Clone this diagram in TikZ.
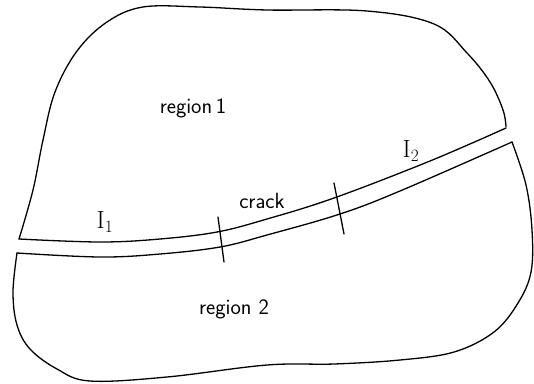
\documentclass[tikz,border=0pt]{standalone}
\begin{document}
\begin{tikzpicture}[x=1pt,y=-1pt,
  outline/.style={line width=1.3pt,line cap=round,line join=round},
  tick/.style={line width=1.3pt,line cap=round},
  lab/.style={font=\sffamily\fontsize{22}{24}\selectfont,inner sep=0pt},
  mlab/.style={font=\fontsize{24}{26}\selectfont,inner sep=0pt}]
\useasboundingbox (0,0) rectangle (534,383);
% region 1 outline
\draw[outline] plot[smooth,tension=0.6] coordinates {(19,239) (33,190) (43,140) (55,92) (77,51) (107,22) (143,7) (200,7) (267,10) (367,11) (434,24) (467,53) (490,82) (503,110) (506,127)};
% upper crack boundary
\draw[outline] plot[smooth,tension=0.6] coordinates {(19,239) (100,242) (160,239) (217,232) (267,219) (334,198) (430,161) (506,128)};
% lower crack boundary
\draw[outline] plot[smooth,tension=0.6] coordinates {(17,253) (100,257) (160,254) (220,247) (267,235) (340,214) (400,191) (512,142)};
% region 2 outline
\draw[outline] plot[smooth,tension=0.6] coordinates {(17,253) (13,292) (17,325) (30,349) (57,369) (90,381) (167,377) (267,365) (334,364) (400,360) (454,352) (494,332) (518,303) (531,272) (532,230) (526,185) (512,142)};
% crack tips
\coordinate (t1a) at (218,217); \coordinate (t1b) at (224,262);
\coordinate (t2a) at (334,183); \coordinate (t2b) at (344,234);
\draw[tick] (t1a) -- (t1b);
\draw[tick] (t2a) -- (t2b);
% labels
\node[lab] (r1) at (193,108) {region\,1};
\node[lab] (r2) at (234,309) {region 2};
\node[lab] (cr) at (262,201) {crack};
\node[mlab] (i1) at (105,222) {$\mathrm{I}_1$};
\node[mlab] (i2) at (411,151) {$\mathrm{I}_2$};
\end{tikzpicture}
\end{document}
